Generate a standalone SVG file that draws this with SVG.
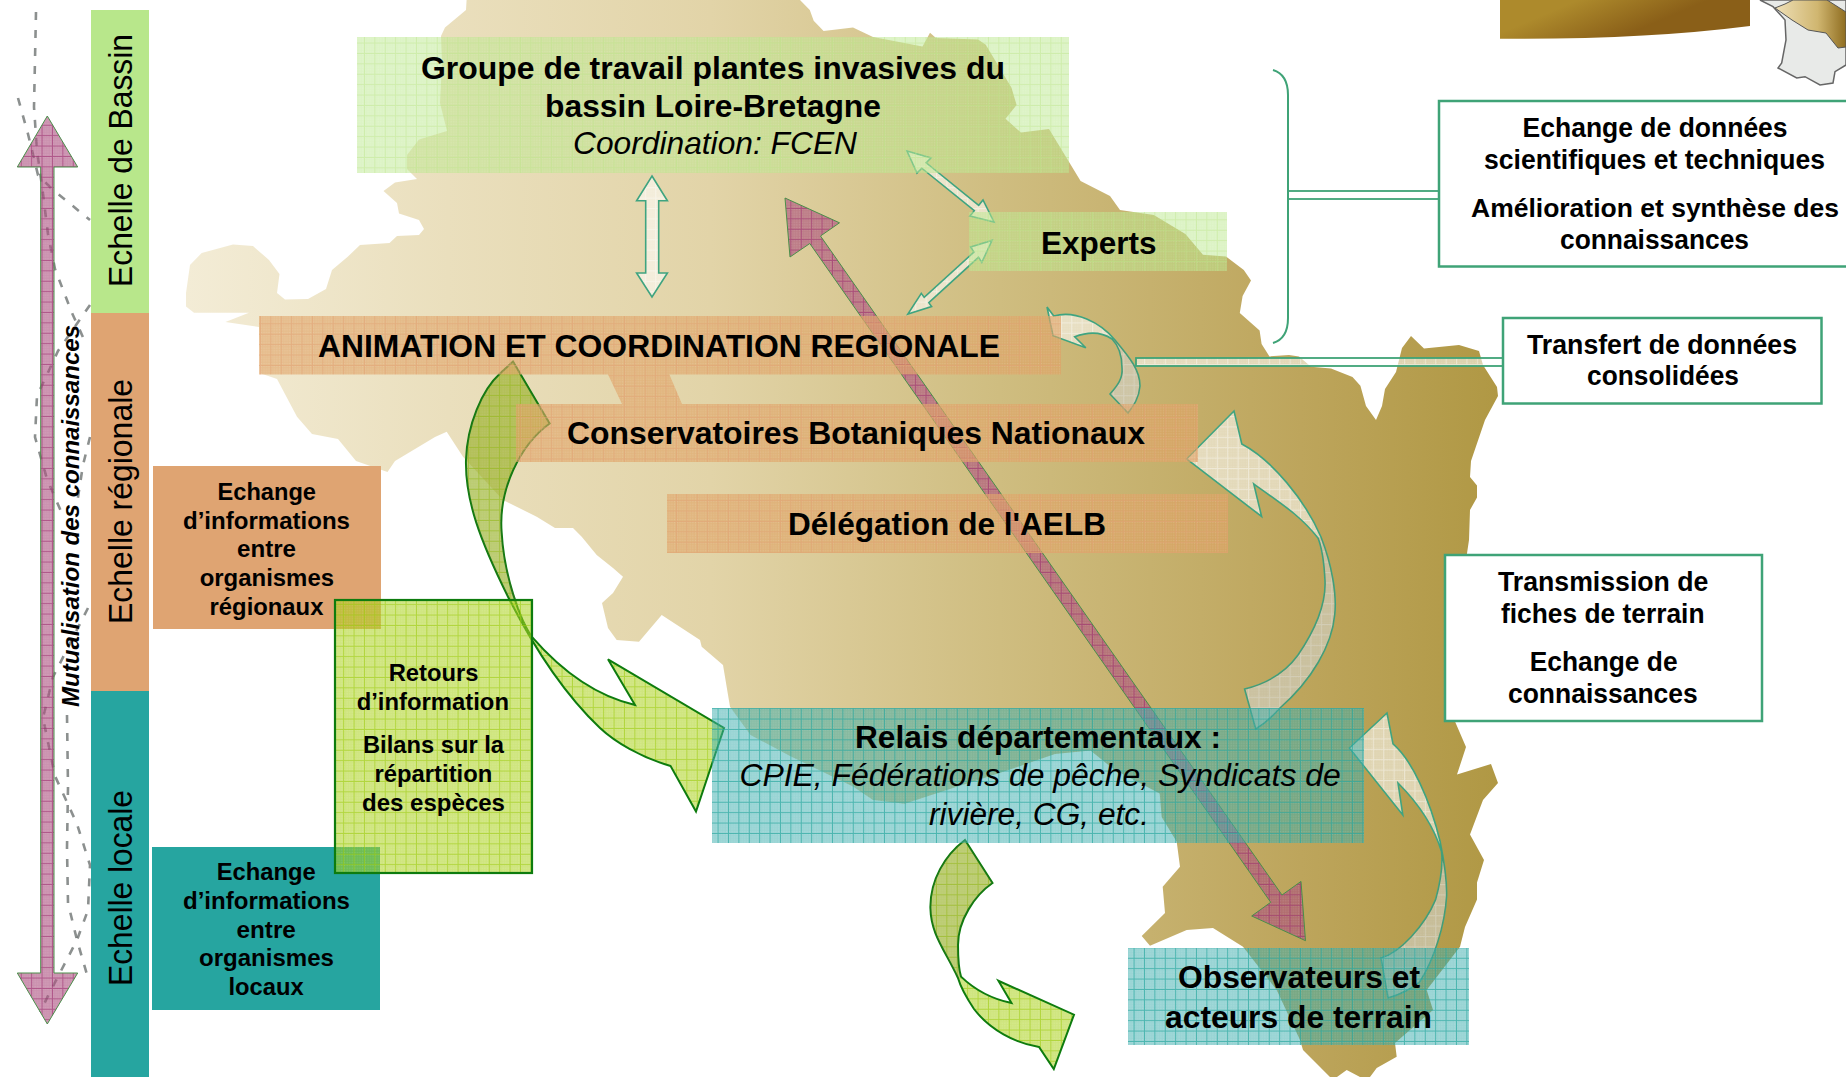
<svg xmlns="http://www.w3.org/2000/svg" width="1846" height="1077" viewBox="0 0 1846 1077">
<style>
text{font-family:"Liberation Sans",Arial,sans-serif;fill:#000}
.b31{font-size:32px;font-weight:bold}
.i31{font-size:32px;font-style:italic}
.i30{font-size:31px;font-style:italic}
.b26{font-size:27.5px;font-weight:bold}
.b26s{font-size:26.4px;font-weight:bold}
.b23{font-size:24px;font-weight:bold}
.r33{font-size:33px}
.m{font-size:24px;font-weight:bold;font-style:italic}
.wbox{fill:#fff;stroke:#3fa377;stroke-width:2.5}
.ga{fill:url(#pGA);stroke:#0e7c0e;stroke-width:2;stroke-linejoin:miter}
.la{fill:url(#pL);stroke:#3fa480;stroke-width:1.6;stroke-linejoin:miter}
.pa{fill:url(#pP);stroke:#4a8f4a;stroke-width:1}
.shade{fill:#6e6a40;fill-opacity:.2;stroke:none}
.link{fill:url(#pL);stroke:#3fa377;stroke-width:1.8}
.dash{fill:none;stroke:#5c6261;stroke-width:2.6;stroke-dasharray:8 10;opacity:.7;filter:url(#soft)}
</style>
<defs>
<filter id="soft" x="-20%" y="-5%" width="140%" height="110%"><feGaussianBlur stdDeviation=".7"/></filter>
<linearGradient id="mapG" gradientUnits="userSpaceOnUse" x1="186" y1="0" x2="1498" y2="0">
<stop offset="0" stop-color="#f3ecd6"/><stop offset=".2" stop-color="#eadfbd"/><stop offset=".4" stop-color="#e2d4a8"/><stop offset=".62" stop-color="#cfbd80"/><stop offset=".85" stop-color="#bda55c"/><stop offset="1" stop-color="#b09844"/>
</linearGradient>
<linearGradient id="brownG" gradientUnits="userSpaceOnUse" x1="1590" y1="-5" x2="1610" y2="42">
<stop offset="0" stop-color="#ad8a2c"/><stop offset="1" stop-color="#8a5f18"/>
</linearGradient>
<linearGradient id="basinG" x1="0" y1="0" x2="1" y2="0">
<stop offset="0" stop-color="#efe0b8"/><stop offset=".6" stop-color="#d0b670"/><stop offset="1" stop-color="#8f6d20"/>
</linearGradient>
<pattern id="dots" width="2.6" height="2.6" patternUnits="userSpaceOnUse"><circle cx="1.3" cy="1.3" r=".6" fill="#fff" fill-opacity=".22"/></pattern>
<pattern id="pG" width="10.4" height="10.4" patternUnits="userSpaceOnUse"><rect width="10.4" height="10.4" fill="#bae78b" fill-opacity=".5"/><rect width="10.4" height="10.4" fill="url(#dots)"/><path d="M.5 0V10.4M0 .5H10.4" stroke="#bce58a" stroke-opacity=".45" fill="none"/></pattern>
<pattern id="pO" width="10.4" height="10.4" patternUnits="userSpaceOnUse"><rect width="10.4" height="10.4" fill="#dfa061" fill-opacity=".6"/><rect width="10.4" height="10.4" fill="url(#dots)"/><path d="M.5 0V10.4M0 .5H10.4" stroke="#e2a274" stroke-opacity=".55" fill="none"/></pattern>
<pattern id="pT" width="10.4" height="10.4" patternUnits="userSpaceOnUse"><rect width="10.4" height="10.4" fill="#32aaaa" fill-opacity=".5"/><rect width="10.4" height="10.4" fill="url(#dots)"/><path d="M.5 0V10.4M0 .5H10.4" stroke="#2ba8a0" stroke-opacity=".7" fill="none"/></pattern>
<pattern id="pGA" width="10.4" height="10.4" patternUnits="userSpaceOnUse"><rect width="10.4" height="10.4" fill="#a7cf14" fill-opacity=".55"/><rect width="10.4" height="10.4" fill="url(#dots)"/><path d="M.5 0V10.4M0 .5H10.4" stroke="#9ccc10" stroke-opacity=".6" fill="none"/></pattern>
<pattern id="pP" width="10.4" height="10.4" patternUnits="userSpaceOnUse"><rect width="10.4" height="10.4" fill="#a8487a" fill-opacity=".6"/><rect width="10.4" height="10.4" fill="url(#dots)"/><path d="M.5 0V10.4M0 .5H10.4" stroke="#9c2f70" stroke-opacity=".6" fill="none"/></pattern>
<pattern id="pL" width="10.4" height="10.4" patternUnits="userSpaceOnUse"><rect width="10.4" height="10.4" fill="#fff" fill-opacity=".55"/><rect width="10.4" height="10.4" fill="url(#dots)"/><path d="M.5 0V10.4M0 .5H10.4" stroke="#fff" stroke-opacity=".4" fill="none"/></pattern>
</defs>

<g id="background">
<path fill="url(#mapG)" d="M466.6 0L466 10L445 27.5L441 36L442 62L440 103L447 131L419 139.5L407 155L407 169L417 179L395 182.5L383.5 191L397 203L399 213.5L419 220L424 229L419 235L397 236L389.5 243L360 245L348 256.5L332 270L326 289L308 299L285 299.6L277 293L279.5 274L269 260L253 246L233 244.5L201.7 253L190 265L186 293L186 306.5L194 312.7L249 312.7L225.4 322L259 327L261 373.6L277 379L297 416.7L312 434L338 439L356 461L387.5 472L395 461L435 437L446.7 431.7L463 456.7L503 500L536.7 516.7L555 528L573 528L581.7 536.7L596.7 555L613 568L623 576.7L613 593L602 603L608 628L616.7 640L639 641.7L661.7 615L700 640L701.7 646.7L723 665L730 706.7L750.5 735L790 756L853 786.6L873 800L904.7 803.7L936 793.4L999.6 773L1055 754L1090.5 750.6L1114 769.5L1159.7 793.4L1161.7 817L1176.7 841.7L1180 866.7L1162.7 886.7L1165 913L1141.7 936L1150 945.7L1186.7 930L1213 928L1243 946.7L1276.7 990L1300 1040L1303 1050L1320 1067L1330 1077L1337 1077L1346.7 1070L1360 1077L1370 1077L1376.7 1068L1396.7 1056.7L1395 1043L1433 1010L1426.7 990L1460 946.7L1465 927L1477 899.6L1477 882.5L1484 860L1470 834.5L1483 800L1498 783L1491 764L1457 774.6L1466 747L1455 721.5L1450 700L1460 600L1469 540L1470 510L1477 497.6L1477 485.5L1470 477L1471 461L1485 420L1498 396L1497 387L1483 365L1479 351L1459 345L1424 348.5L1411 336L1402 348L1396 372L1385 389L1382 406L1376 420L1366 406L1360.4 385.7L1352.5 377L1331 368.5L1311 366.7L1299 356.4L1289 355L1269.5 356.4L1261.6 344L1259.6 330.6L1239.8 313L1242.6 296L1251 280.6L1243.8 270L1226 256.5L1203 254.8L1185.4 234L1153.8 215L1120 210L1110 196L1080.6 181L1049 129L1021 132.6L1005.5 118.8L1016.6 105L1011.5 87.8L985.8 44.8L978 39.6L936 38L930 32.7L922.5 46.5L873 37L853 27.5L823.6 31L813.7 20.7L809.8 10L800 0Z"/>
<path fill="url(#brownG)" d="M1500 0V38.7Q1640 40 1750 26V0Z"/>
<path fill="#e8eae8" stroke="#666" stroke-width="1.5" d="M1760 0L1773 6.7L1785 20L1786 40L1781.7 63L1778 68L1796.7 78L1805 76.7L1820 85L1833 83L1835 71.7L1846 65V0Z"/>
<path fill="url(#basinG)" stroke="#555" d="M1775 8L1792 20L1808 30L1826 33L1838 48L1846 47V12L1827 0H1793L1785 4Z"/>
<path class="dash" d="M36 12L34 107L37 151L42 186L48 234L55 269L72 313L87 346"/>
<path class="dash" d="M18 98L28 134L38 175L52 189L90 220"/>
<path class="dash" d="M90 305L58 351L37 396L35 437L47 479L63 516"/>
<path class="dash" d="M90 437L83 465L76 510"/>
<path class="dash" d="M88 608L53 677L43 718L55 776L77 824L90 865L88 910L77 940L50 992L40 1012"/>
<path class="dash" d="M67 715L68 787L67 848L68 903L77 940L88 978"/>
</g>

<g id="connectors">
<path class="pa" d="M47.3 116L77.7 167H54V973H77.7L47.3 1024L17.3 973H40.7V167H17.3Z"/>
<rect class="link" x="1288" y="191" width="151" height="8"/>
<rect class="link" x="1136" y="358" width="367" height="8"/>
<path fill="none" stroke="#3fa377" stroke-width="2" d="M1273 70C1283 73 1288 82 1288 95V318C1288 331 1283 340 1273 343"/>
<path class="la" d="M652 176L667.4 200.8H658.7V273H667.4L652 297L636.6 273H645.7V200.8H636.6Z"/>
<path class="la" d="M907 151L931 158L926.2 162.8L978.7 205.3L983 200L994 222L970 216L974.3 210.7L921.8 168.2L917 173Z"/>
<path class="la" d="M992 240.4L981.8 262.4L978.5 257.3L928.8 302.6L931.6 306.5L907.9 314L921.3 293.4L924.2 297.4L973.9 252.1L970.7 247Z"/>
<path class="pa" d="M785 198L839.5 222.8L820.5 236L1282 895L1301 881.4L1305.5 940.7L1251.7 916L1270.7 902.3L809.8 243.5L790 257Z"/>
<path class="la" d="M1047 307L1053.8 316C1075 310 1100 322 1115 340C1130 358 1140 370 1140 386C1139 398 1134 405 1128 413L1110 394C1118 385 1123 378 1122 368C1122 355 1118 345 1112 339C1103 333 1090 331 1074.7 336.8L1085.8 347.8L1053 335.7Z"/>
<path class="shade" d="M1115 340C1130 358 1140 370 1140 386C1139 398 1134 405 1128 413L1110 394C1118 385 1123 378 1122 368C1122 355 1118 345 1112 339Z"/>
<path class="la" d="M1186.6 459L1234 411L1241.8 444C1272 460 1305 500 1321 537C1332 565 1337 595 1334.7 615C1332 645 1312 680 1280 708C1272 717 1264 724 1255.7 729L1244.6 689C1265 684 1285 673 1298 655C1315 630 1326 605 1325 581C1324 560 1322 548 1318 538C1300 515 1280 503 1253.7 483.8L1261.6 516.5Z"/>
<path class="shade" d="M1321 537C1332 565 1337 595 1334.7 615C1332 645 1312 680 1280 708C1272 717 1264 724 1255.7 729L1244.6 689C1265 684 1285 673 1298 655C1315 630 1326 605 1325 581C1324 560 1322 548 1318 538Z"/>
<path class="la" d="M1349.4 748L1387 713L1393 743.8C1412 760 1430 800 1440 841C1445 865 1447 880 1446.6 896C1445 925 1434 960 1419.8 981.8C1410 990 1398 995 1388 998L1381 957.8C1400 953 1425 925 1435.6 899.6C1441 880 1443 865 1441.5 851.6C1435 830 1420 805 1398 783L1402.8 815Z"/>
<path class="shade" d="M1440 841C1445 865 1447 880 1446.6 896C1445 925 1434 960 1419.8 981.8C1410 990 1398 995 1388 998L1381 957.8C1400 953 1425 925 1435.6 899.6C1441 880 1443 865 1441.5 851.6Z"/>
<path class="ga" d="M513 361.6L549.6 423.5C520 445 498 490 501.7 533C504 575 520 620 531.7 636.7C565 675 600 697 635 705L608 659.3L724 728L696 811.6L670.6 766C640 757 615 742 600 728C560 690 530 640 508 596.7C480 540 465 500 466 460C467 425 482 390 500 373.6Z"/>
<path class="shade" d="M513 361.6L549.6 423.5C520 445 498 490 501.7 533C504 565 512 590 518 605L508 596.7C480 540 465 500 466 460C467 425 482 390 500 373.6Z"/>
<path class="ga" d="M965 840L992.5 883C975 895 958 920 958 945C958 960 959 970 961 976.6C975 990 992 999 1011.5 1003L998.4 980.8L1074 1014.7L1053.8 1069L1039 1047C1015 1043 990 1030 974 1009C966 997 960 985 958 978C945 950 931 935 930.4 908C930 880 945 855 965 840Z"/>
<path class="shade" d="M965 840L992.5 883C975 895 958 920 958 945C958 960 959 970 961 976.6L958 978C945 950 931 935 930.4 908C930 880 945 855 965 840Z"/>
</g>

<g id="scale-bassin"><rect x="91" y="10" width="58" height="303" fill="#b8e78b"/><text class="r33" transform="rotate(-90 132 287)" x="132" y="287" textLength="253" lengthAdjust="spacingAndGlyphs">Echelle de Bassin</text></g>
<g id="scale-regionale"><rect x="91" y="313" width="58" height="378" fill="#dfa472"/><text class="r33" transform="rotate(-90 132 624)" x="132" y="624" textLength="245" lengthAdjust="spacingAndGlyphs">Echelle régionale</text></g>
<g id="scale-locale"><rect x="91" y="691" width="58" height="386" fill="#26a5a0"/><text class="r33" transform="rotate(-90 132 986)" x="132" y="986" textLength="196" lengthAdjust="spacingAndGlyphs">Echelle locale</text></g>
<g id="mutualisation"><text class="m" transform="rotate(-90 79 707)" x="79" y="707" textLength="382" lengthAdjust="spacingAndGlyphs">Mutualisation des connaissances</text></g>

<g id="echange-regionaux" transform="translate(0 1)"><rect x="153" y="465" width="228" height="163" fill="#dfa472"/>
<text class="b23" x="217.5" y="498.6" textLength="98.5" lengthAdjust="spacingAndGlyphs">Echange</text>
<text class="b23" x="183" y="527.5" textLength="167" lengthAdjust="spacingAndGlyphs">d’informations</text>
<text class="b23" x="237" y="556" textLength="59" lengthAdjust="spacingAndGlyphs">entre</text>
<text class="b23" x="199.7" y="584.5" textLength="134.3" lengthAdjust="spacingAndGlyphs">organismes</text>
<text class="b23" x="209.6" y="613.6" textLength="113.8" lengthAdjust="spacingAndGlyphs">régionaux</text></g>
<g id="echange-locaux" transform="translate(0 1)"><rect x="152" y="846" width="228" height="163" fill="#26a5a0"/>
<text class="b23" x="216.7" y="879" textLength="99" lengthAdjust="spacingAndGlyphs">Echange</text>
<text class="b23" x="183" y="907.5" textLength="167" lengthAdjust="spacingAndGlyphs">d’informations</text>
<text class="b23" x="236.5" y="936.6" textLength="59.3" lengthAdjust="spacingAndGlyphs">entre</text>
<text class="b23" x="199" y="965" textLength="135" lengthAdjust="spacingAndGlyphs">organismes</text>
<text class="b23" x="228.5" y="993.8" textLength="75.2" lengthAdjust="spacingAndGlyphs">locaux</text></g>
<g id="retours" transform="translate(0 1)"><rect x="335" y="599" width="197" height="273" fill="url(#pGA)" stroke="#0e7c0e" stroke-width="2.2"/>
<text class="b23" x="388.7" y="679.7" textLength="89.8" lengthAdjust="spacingAndGlyphs">Retours</text>
<text class="b23" x="356.7" y="708.8" textLength="152.3" lengthAdjust="spacingAndGlyphs">d’information</text>
<text class="b23" x="363" y="751.6" textLength="141" lengthAdjust="spacingAndGlyphs">Bilans sur la</text>
<text class="b23" x="374.5" y="780.8" textLength="117.8" lengthAdjust="spacingAndGlyphs">répartition</text>
<text class="b23" x="362" y="810" textLength="143" lengthAdjust="spacingAndGlyphs">des espèces</text></g>

<g id="groupe" transform="translate(0 1)"><rect x="357" y="36" width="712" height="136" fill="url(#pG)"/>
<text class="b31" x="421" y="77.5" textLength="584" lengthAdjust="spacingAndGlyphs">Groupe de travail plantes invasives du</text>
<text class="b31" x="545" y="116" textLength="336" lengthAdjust="spacingAndGlyphs">bassin Loire-Bretagne</text>
<text class="i31" x="573" y="153" textLength="284" lengthAdjust="spacingAndGlyphs">Coordination: FCEN</text></g>
<g id="experts" transform="translate(0 1)"><rect x="969" y="211" width="258" height="59" fill="url(#pG)"/>
<text class="b31" x="1041" y="253" textLength="115.6" lengthAdjust="spacingAndGlyphs">Experts</text></g>
<g id="animation" transform="translate(0 1)"><path fill="url(#pO)" d="M259 315H1061V373.6H669.4L682 403H622L608 373.6H259Z"/>
<text class="b31" x="318" y="355.7" textLength="682" lengthAdjust="spacingAndGlyphs">ANIMATION ET COORDINATION REGIONALE</text></g>
<g id="cbn" transform="translate(0 1)"><rect x="516" y="403" width="682" height="58" fill="url(#pO)"/>
<text class="b31" x="567" y="443" textLength="578" lengthAdjust="spacingAndGlyphs">Conservatoires Botaniques Nationaux</text></g>
<g id="aelb" transform="translate(0 1)"><rect x="667" y="493" width="561" height="59" fill="url(#pO)"/>
<text class="b31" x="788" y="534" textLength="318" lengthAdjust="spacingAndGlyphs">Délégation de l'AELB</text></g>
<g id="relais" transform="translate(0 1)"><rect x="712" y="707" width="652" height="135" fill="url(#pT)"/>
<text class="b31" x="855" y="747" textLength="366" lengthAdjust="spacingAndGlyphs">Relais départementaux :</text>
<text class="i30" x="739.4" y="785" textLength="601.3" lengthAdjust="spacingAndGlyphs">CPIE, Fédérations de pêche, Syndicats de</text>
<text class="i30" x="929" y="824" textLength="220" lengthAdjust="spacingAndGlyphs">rivière, CG, etc.</text></g>
<g id="observateurs" transform="translate(0 1)"><rect x="1128" y="947" width="341" height="97" fill="url(#pT)"/>
<text class="b31" x="1178" y="987" textLength="242" lengthAdjust="spacingAndGlyphs">Observateurs et</text>
<text class="b31" x="1165" y="1027" textLength="267" lengthAdjust="spacingAndGlyphs">acteurs de terrain</text></g>

<g id="box-echange" transform="translate(0 .5)"><rect class="wbox" x="1439" y="100.5" width="412" height="165.5"/>
<text class="b26" x="1522.6" y="136" textLength="265" lengthAdjust="spacingAndGlyphs">Echange de données</text>
<text class="b26" x="1484" y="168" textLength="341" lengthAdjust="spacingAndGlyphs">scientifiques et techniques</text>
<text class="b26s" x="1471" y="216" textLength="368" lengthAdjust="spacingAndGlyphs">Amélioration et synthèse des</text>
<text class="b26" x="1560" y="248" textLength="189" lengthAdjust="spacingAndGlyphs">connaissances</text></g>
<g id="box-transfert" transform="translate(0 .5)"><rect class="wbox" x="1503" y="317.5" width="318.5" height="85.5"/>
<text class="b26" x="1527" y="353" textLength="270" lengthAdjust="spacingAndGlyphs">Transfert de données</text>
<text class="b26" x="1587" y="384.6" textLength="152" lengthAdjust="spacingAndGlyphs">consolidées</text></g>
<g id="box-transmission" transform="translate(0 1)"><rect class="wbox" x="1445" y="554" width="317" height="166"/>
<text class="b26" x="1498" y="590" textLength="210.4" lengthAdjust="spacingAndGlyphs">Transmission de</text>
<text class="b26" x="1501" y="622" textLength="203.5" lengthAdjust="spacingAndGlyphs">fiches de terrain</text>
<text class="b26" x="1529.7" y="670" textLength="147.9" lengthAdjust="spacingAndGlyphs">Echange de</text>
<text class="b26" x="1508" y="701.6" textLength="189.7" lengthAdjust="spacingAndGlyphs">connaissances</text></g>
</svg>
